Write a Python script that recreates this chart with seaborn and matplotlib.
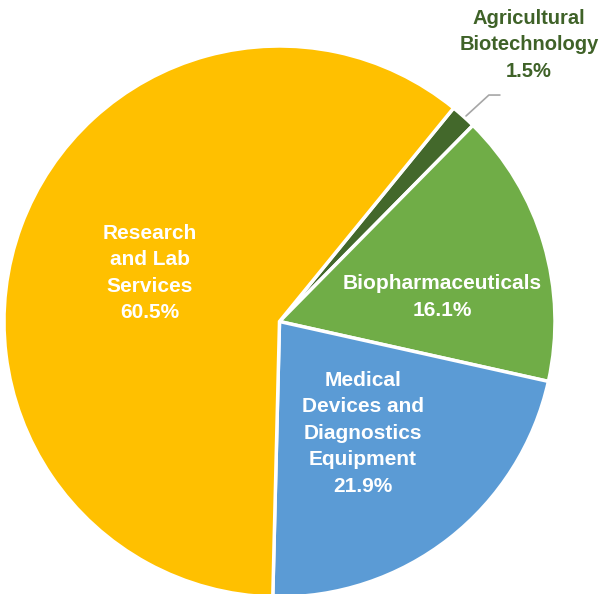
import matplotlib
matplotlib.use("Agg")
import matplotlib.pyplot as plt
import seaborn as sns

sns.set_theme(style="white")
plt.rcParams['font.family'] = ['Liberation Sans Narrow', 'Liberation Sans', 'DejaVu Sans']

categories = ["Agricultural\nBiotechnology", "Biopharmaceuticals",
              "Medical\nDevices and\nDiagnostics\nEquipment", "Research\nand Lab\nServices"]
values = [1.5, 16.1, 21.9, 60.5]
colors = ["#43682B", "#70AD47", "#5B9BD5", "#FFC000"]
text_colors = ["#3F6228", "white", "white", "white"]
label_pos = [(0.905, 1.004), (0.59, 0.089), (0.303, -0.405), (-0.47, 0.176)]
label_sizes = [14.5, 15, 15, 15]

W, H = 606, 594
cx, cy, R = 279.5, 321.5, 275.5
fig = plt.figure(figsize=(W / 100, H / 100), dpi=100)
ax = fig.add_axes([0, 0, 1, 1])
ax.pie(values, colors=colors, startangle=90 - 39.2, counterclock=False,
       wedgeprops=dict(edgecolor="white", linewidth=2.5), radius=1)
ax.set_xlim(-cx / R, (W - cx) / R)
ax.set_ylim(-(H - cy) / R, cy / R)
ax.set_aspect("auto")
ax.axis("off")

for cat, v, (x, y), tc, fs in zip(categories, values, label_pos, text_colors, label_sizes):
    ax.text(x, y, f"{cat}\n{v:.1f}%", ha="center", va="center", color=tc,
            fontsize=fs, fontweight="bold", linespacing=1.5)

ax.plot([0.677, 0.760, 0.800], [0.746, 0.822, 0.822], color="#A6A6A6", lw=1.2)

fig.savefig("out.png", dpi=100)
